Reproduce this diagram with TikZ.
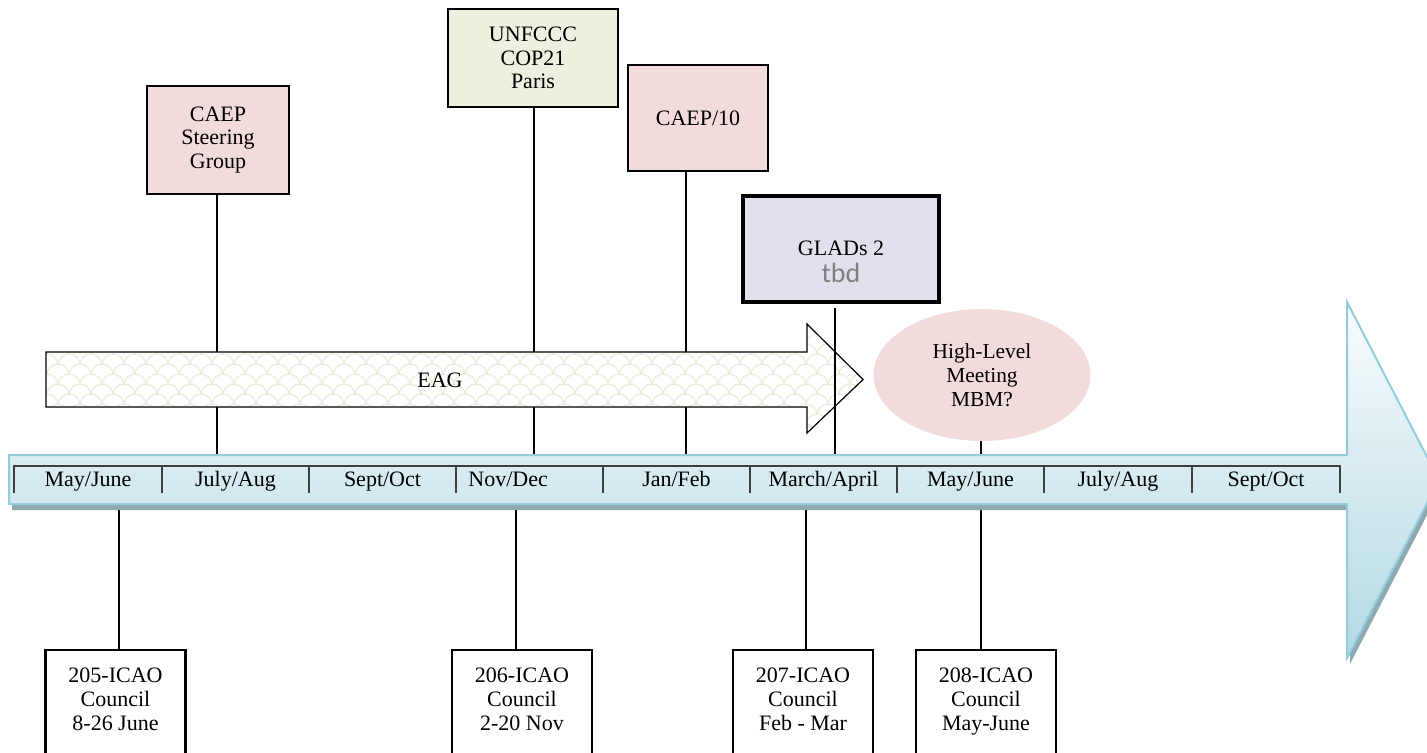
\documentclass[tikz,border=0pt]{standalone}
\usepackage{fontspec}
\setmainfont{Liberation Serif}
\newfontfamily\tbdfont{Carlito}
\usetikzlibrary{shapes.geometric}
\definecolor{pinkbox}{HTML}{F2DCDB}
\definecolor{greenbox}{HTML}{EBF1DE}
\definecolor{lilacbox}{HTML}{E4DFEC}
\definecolor{barline}{HTML}{93CDDD}
\definecolor{barlight}{HTML}{F8FCFD}
\definecolor{bardark}{HTML}{B3D9E4}
\definecolor{barshadow}{HTML}{8FA9B1}
\definecolor{scalecol}{HTML}{EEEBDC}
\definecolor{cellline}{HTML}{3F3F3F}
\tikzset{
    event/.style={
           rectangle,
           draw=black, line width=1.3pt,
           align=center,
           font=\fontsize{11}{11.8}\selectfont,
           },
}
\tikzset{
    council/.style={
           rectangle,
           draw=black, line width=1.2pt,
           fill=white,
           align=center,
           anchor=north,
           minimum width=70pt,
           inner ysep=9pt,
           text depth=45pt,
           font=\fontsize{11}{11.8}\selectfont,
           },
}
\tikzset{
    month/.style={
           inner sep=0pt,
           anchor=base,
           font=\fontsize{11}{13}\selectfont,
           },
}
\tikzset{
    link/.style={
           draw=black,
           line width=0.85pt,
           },
}

\begin{document}
\begin{tikzpicture}[x=0.5pt,y=-0.5pt]
\path[use as bounding box, clip] (0,0) rectangle (1427,752);

\coordinate (up1) at (217,455);
\coordinate (up2) at (534,455);
\coordinate (up3) at (686,455);
\coordinate (up4) at (835,455);
\coordinate (up5) at (981,455);
\coordinate (dn1) at (119,505);
\coordinate (dn2) at (516,505);
\coordinate (dn3) at (806,505);
\coordinate (dn4) at (981,505);

\node[event,fill=pinkbox,minimum width=71pt,minimum height=54pt] (caepsg) at (218,140) {CAEP\\Steering\\Group};
\node[event,fill=greenbox,minimum width=85pt,minimum height=49pt] (cop21) at (533,58) {UNFCCC\\COP21\\Paris};
\node[event,fill=pinkbox,minimum width=70pt,minimum height=53pt] (caep10) at (698,118) {CAEP/10};
\node[event,fill=lilacbox,line width=1.6pt,minimum width=98pt,minimum height=53pt,text height=34pt,font=\fontsize{11}{13.5}\selectfont] (glads) at (841,249) {GLADs 2\\{\tbdfont\fontsize{14}{14}\selectfont\color{gray}tbd}};
\node[ellipse,fill=pinkbox,minimum width=108.5pt,minimum height=66pt,inner sep=0pt,align=center,font=\fontsize{10.7}{12}\selectfont] (hlm) at (982,375) {High-Level\\Meeting\\MBM?};

\node[council] (c205) at (115.5,649) {205-ICAO\\Council\\8-26 June};
\node[council] (c206) at (522,649) {206-ICAO\\Council\\2-20 Nov};
\node[council] (c207) at (803,649) {207-ICAO\\Council\\Feb - Mar};
\node[council] (c208) at (986,649) {208-ICAO\\Council\\May-June};

\draw[link] (up1 |- caepsg.south) -- (up1);
\draw[link] (up2 |- cop21.south) -- (up2);
\draw[link] (up3 |- caep10.south) -- (up3);

\fill[white] (46,352) -- (807,352) -- (807,324) -- (863,379.5) -- (807,433) -- (807,407) -- (46,407) -- cycle;
\begin{scope}
\clip (46,352) -- (807,352) -- (807,324) -- (863,379.5) -- (807,433) -- (807,407) -- (46,407) -- cycle;
\foreach \yy in {345,365,...,445}
  \foreach \xx in {36,58,...,870}
    \draw[scalecol,line width=0.6pt] (\xx,\yy) arc[start angle=180,end angle=360,radius=11];
\foreach \yy in {355,375,...,445}
  \foreach \xx in {47,69,...,870}
    \draw[scalecol,line width=0.6pt] (\xx,\yy) arc[start angle=180,end angle=360,radius=11];
\end{scope}
\draw[black,line width=0.6pt] (46,352) -- (807,352) -- (807,324) -- (863,379.5) -- (807,433) -- (807,407) -- (46,407) -- cycle;
\node[font=\fontsize{11}{13}\selectfont] (eag) at (440,380) {EAG};

\draw[link,shorten <=2pt] (up4 |- glads.south) -- (up4);
\draw[link] (up5 |- hlm.south) -- (up5);

\draw[link] (dn1) -- (dn1 |- c205.north);
\draw[link] (dn2) -- (dn2 |- c206.north);
\draw[link] (dn3) -- (dn3 |- c207.north);
\draw[link] (dn4) -- (dn4 |- c208.north);

\fill[barshadow,shift={(3,6)}] (9,455) -- (1347,455) -- (1347,302) -- (1439,480) -- (1347,658) -- (1347,504) -- (9,504) -- cycle;
\shade[top color=barlight,bottom color=bardark,draw=barline,line width=1pt] (9,455) -- (1347,455) -- (1347,302) -- (1439,480) -- (1347,658) -- (1347,504) -- (9,504) -- cycle;

\draw[cellline,line width=0.75pt] (14,493) -- (14,466) -- (1340,466) -- (1340,493);
\draw[cellline,line width=0.75pt] (162,466) -- (162,493);
\draw[cellline,line width=0.75pt] (309,466) -- (309,493);
\draw[cellline,line width=0.75pt] (456,466) -- (456,493);
\draw[cellline,line width=0.75pt] (603,466) -- (603,493);
\draw[cellline,line width=0.75pt] (750,466) -- (750,493);
\draw[cellline,line width=0.75pt] (897,466) -- (897,493);
\draw[cellline,line width=0.75pt] (1044,466) -- (1044,493);
\draw[cellline,line width=0.75pt] (1192,466) -- (1192,493);

\node[month] (m1) at (88,486) {May/June};
\node[month] (m2) at (235.5,486) {July/Aug};
\node[month] (m3) at (382.5,486) {Sept/Oct};
\node[month,anchor=base west] (m4) at (468,486) {Nov/Dec};
\node[month] (m5) at (676.5,486) {Jan/Feb};
\node[month] (m6) at (823.5,486) {March/April};
\node[month] (m7) at (970.5,486) {May/June};
\node[month] (m8) at (1118,486) {July/Aug};
\node[month] (m9) at (1266,486) {Sept/Oct};
\end{tikzpicture}
\end{document}
